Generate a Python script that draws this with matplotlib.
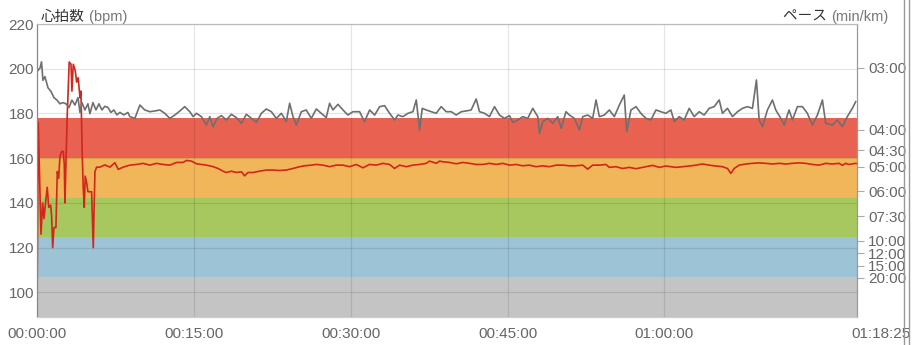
import matplotlib.pyplot as plt
from matplotlib.lines import Line2D

plt.rcParams['font.family'] = ['Liberation Sans', 'Noto Sans CJK JP', 'DejaVu Sans']

# heart rate (bpm) vs elapsed time (minutes)
hr_time = [0.00, 0.12, 0.38, 0.54, 0.67, 0.86, 0.98, 1.12, 1.31, 1.40, 1.50, 1.62, 1.81, 1.94,
           2.07, 2.20, 2.36, 2.51, 2.61, 2.67, 2.89, 3.08, 3.25, 3.34, 3.47, 3.66, 3.79, 3.94,
           4.11, 4.20, 4.33, 4.42, 4.52, 4.61, 4.75, 4.87, 5.22, 5.38, 5.54, 5.70, 6.02, 6.49,
           6.97, 7.45, 7.77, 8.24,
           8.88, 9.52, 10.15, 10.79, 11.43, 12.06, 12.70, 13.34, 13.97, 14.29, 14.77, 15.25,
           15.72, 16.20, 16.84, 17.32, 17.79, 18.11, 18.59, 19.07, 19.55, 19.86, 20.18, 20.66,
           21.30, 21.93, 22.57, 23.21, 23.84, 24.48, 25.12, 25.59, 26.23, 26.71, 27.35, 27.98,
           28.62, 29.26, 29.89, 30.53, 31.17, 31.80,
           32.45, 33.08, 33.72, 34.20, 34.67, 35.31, 35.95, 36.58, 37.22, 37.54, 38.18, 38.50,
           38.81, 39.45, 40.09, 40.72, 41.36, 42.00, 42.63, 43.27, 43.91, 44.54, 45.18, 45.82,
           46.45, 47.09, 47.73, 48.36, 49.00, 49.64, 50.27, 50.91, 51.55, 52.19, 52.66, 53.14,
           53.78, 54.41,
           54.73, 55.37, 56.00, 56.64, 57.28, 57.91, 58.55, 58.87, 59.51, 60.14, 61.10, 61.73,
           62.37, 63.01, 63.64, 64.28, 64.92, 65.55, 66.03, 66.35, 66.67, 67.15, 67.78, 68.42,
           69.06, 69.69, 70.33, 70.97, 71.60, 72.24, 72.88, 73.51, 74.15, 74.79, 75.42, 76.06,
           76.70, 77.02, 77.33, 77.65, 78.29, 78.42]
hr_bpm = [93, 176, 126, 140, 133, 142, 147, 138, 139, 134, 120, 129, 129, 154,
          151, 161, 163, 163, 157, 140, 179, 203, 202, 190, 202, 199, 194, 196,
          187, 190, 161, 147, 138, 152, 149, 145, 145, 120, 154, 156, 156, 157,
          156, 158, 155, 156,
          156.9, 157.2, 157.7, 156.9, 157.7, 157.2, 156.9, 158.1, 158.1, 159.0, 158.7, 157.5,
          157.2, 156.9, 156.2, 155.4, 154.2, 153.6, 154.2, 153.6, 153.9, 152.1, 153.6, 153.6,
          154.2, 154.7, 154.7, 154.5, 154.7, 155.4, 156.2, 156.6, 156.9, 157.2, 156.9, 156.2,
          156.9, 156.9, 156.2, 157.2, 155.7, 157.2,
          156.9, 157.7, 157.2, 155.4, 156.9, 156.2, 156.9, 157.2, 157.7, 158.7, 157.7, 158.7,
          158.4, 158.1, 157.5, 158.1, 157.7, 157.2, 157.2, 157.7, 157.2, 157.7, 156.9, 157.2,
          156.6, 156.9, 156.2, 156.6, 156.2, 156.9, 156.9, 156.6, 156.6, 156.9, 155.1, 156.9,
          156.9, 157.2,
          155.9, 156.2, 155.4, 155.9, 155.3, 155.9, 156.5, 156.8, 155.9, 156.5, 155.9, 156.2,
          156.5, 156.9, 157.4, 156.9, 156.5, 156.2, 155.4, 153.2, 155.4, 156.9, 157.4, 157.7,
          157.9, 157.7, 157.4, 157.7, 157.4, 157.7, 157.9, 157.7, 157.2, 156.9, 157.7, 157.4,
          157.7, 156.8, 157.7, 157.2, 157.7, 157.5]

# pace shown as speed (km/h) vs elapsed time (minutes)
pace_time = [0.00, 0.29, 0.43, 0.57, 0.76, 1.05, 1.34, 1.62, 1.91, 2.20, 2.48, 2.77, 3.06, 3.34,
             3.63, 3.92, 4.11, 4.30, 4.58, 4.87, 5.06, 5.35, 5.64, 5.92, 6.21, 6.49, 6.78, 7.07,
             7.35, 7.64, 7.93, 8.31, 8.69,
             8.88, 9.36, 9.84, 10.31, 10.79, 11.27, 11.75, 12.22, 12.70, 13.18, 13.66, 14.13,
             14.61, 14.93, 15.25, 15.72, 16.20, 16.52, 16.84, 17.22, 17.64, 18.11, 18.59, 19.07,
             19.55, 20.02, 20.50, 20.98, 21.46, 21.93, 22.41, 22.89, 23.37, 23.84, 24.16, 24.48,
             24.80, 25.28, 25.75, 26.23, 26.71, 27.19, 27.66, 27.98, 28.30, 28.78, 29.26, 29.73,
             30.21, 30.85, 31.32,
             31.81, 32.29, 32.77, 33.24, 33.72, 34.20, 34.52, 34.99, 35.47, 35.95, 36.27, 36.59,
             36.84, 37.22, 37.70, 38.18, 38.65, 39.13, 39.61, 40.09, 40.57, 41.04, 41.52, 42.00,
             42.32, 42.79, 43.27, 43.75, 44.23, 44.70, 45.18, 45.50, 45.98, 46.45, 46.93, 47.41,
             47.89, 48.05, 48.37, 48.84, 49.32, 49.80, 50.12, 50.59, 50.91, 51.39, 51.87, 52.19,
             52.66, 53.14, 53.46, 53.78, 54.25,
             54.73, 55.21, 55.69, 56.16, 56.39, 56.80, 57.28, 57.75, 58.23, 58.71, 59.19, 59.66,
             60.14, 60.62, 60.94, 61.42, 61.89, 62.37, 62.85, 63.33, 63.80, 64.28, 64.76, 65.24,
             65.55, 66.03, 66.51, 66.99, 67.46, 67.94, 68.42, 68.80, 69.06, 69.38, 69.85, 70.33,
             70.65, 71.13, 71.45, 71.92, 72.24, 72.72, 73.20, 73.67, 74.15, 74.63, 75.11, 75.42,
             76.06, 76.54, 77.02, 77.49, 77.97, 78.29]
speed_kmh = [19.7, 20.0, 20.5, 19.0, 19.3, 18.4, 18.1, 17.6, 17.4, 17.1, 17.2, 17.1, 16.8, 17.4,
             17.0, 17.6, 16.4, 17.2, 16.6, 17.1, 16.3, 17.2, 16.6, 17.1, 16.6, 16.9, 16.8, 16.4,
             16.6, 16.2, 16.4, 16.2, 16.4,
             16.06, 15.92, 17.00, 16.60, 16.46, 16.52, 16.60, 16.33, 15.92, 16.19, 16.52, 16.87,
             16.46, 16.06, 16.33, 16.06, 15.38, 16.06, 15.25, 15.92, 16.14, 15.79, 16.25, 15.98,
             15.52, 16.25, 15.92, 15.60, 16.33, 16.68, 16.46, 15.92, 16.33, 15.65, 17.14, 16.06,
             15.38, 16.46, 16.60, 15.92, 16.68, 16.33, 15.98, 17.14, 16.60, 17.06, 16.60, 16.19,
             16.46, 16.46, 15.65,
             16.60, 16.19, 16.87, 16.95, 16.33, 15.79, 16.19, 16.06, 16.33, 16.46, 17.41, 14.98,
             16.73, 16.60, 16.46, 16.33, 16.87, 16.46, 16.46, 16.19, 16.46, 16.52, 16.60, 17.49,
             16.46, 16.33, 16.06, 16.87, 16.19, 15.92, 16.14, 15.60, 15.79, 16.06, 15.92, 16.73,
             16.06, 14.71, 15.65, 15.92, 15.52, 16.06, 15.11, 16.46, 16.19, 15.92, 14.98, 16.06,
             16.19, 15.92, 17.41, 16.06, 16.19,
             16.60, 16.06, 17.00, 17.81, 14.85, 16.60, 16.87, 16.33, 15.92, 15.79, 16.60, 16.46,
             16.33, 16.60, 15.65, 16.06, 15.79, 16.73, 16.06, 16.46, 16.19, 16.73, 16.87, 17.41,
             16.33, 16.73, 16.06, 16.46, 16.73, 16.87, 16.73, 19.03, 15.79, 15.25, 16.60, 17.41,
             16.60, 15.92, 15.38, 16.60, 15.79, 16.87, 16.87, 16.33, 15.38, 16.19, 17.41, 15.52,
             15.38, 15.79, 15.25, 16.06, 16.73, 17.27]

max_hr = 178
zone_pcts = [0.5, 0.6, 0.7, 0.8, 0.9, 1.0]
zone_colors = ['#c4c4c4', '#9dc3d6', '#a6c85e', '#f2b65a', '#e96251']

hr_ticks = [100, 120, 140, 160, 180, 200, 220]
time_ticks = [0, 15, 30, 45, 60]
time_labels = ['00:00:00', '00:15:00', '00:30:00', '00:45:00', '01:00:00']
end_label = '01:18:25'
pace_labels = ['03:00', '04:00', '04:30', '05:00', '06:00', '07:30', '10:00', '12:00', '15:00', '20:00']

total_min = 78 + 25 / 60
pace_speeds = [60 / (int(p[:2]) + int(p[3:]) / 60) for p in pace_labels]

fig = plt.figure(figsize=(9.21, 3.45), dpi=100)
ax = fig.add_axes([37 / 921, 28 / 345, 820 / 921, 293 / 345])

# heart-rate zones
for lo, hi, c in zip(zone_pcts[:-1], zone_pcts[1:], zone_colors):
    ax.axhspan(max_hr * lo, max_hr * hi, color=c, lw=0, zorder=0)

ax.plot(hr_time, hr_bpm, color='#d0261c', lw=1.2, zorder=3)
ax.set_xlim(0, total_min)
ax.set_ylim(max_hr * 0.5, 220)
ax.set_yticks(hr_ticks)
ax.set_xticks(time_ticks, time_labels)
ax.grid(True, color='black', alpha=0.1, lw=0.9)
ax.tick_params(axis='y', length=0, pad=2, labelsize=11, labelcolor='#666')
ax.tick_params(axis='x', length=0, pad=7, labelsize=11, labelcolor='#666')
ax.annotate(end_label, xy=(total_min, max_hr * 0.5), xytext=(24, -17),
            textcoords='offset pixels', ha='center', va='center', fontsize=11, color='#666',
            annotation_clip=False)

ax2 = ax.twinx()
ax2.plot(pace_time, speed_kmh, color='#6f6f6f', lw=1.2)
ax2.set_ylim(-0.16, 23.56)
ax2.set_yticks(pace_speeds, pace_labels)
ax2.tick_params(axis='y', direction='out', length=5, width=0.8, color='#aaa',
                pad=3, labelsize=11, labelcolor='#666')

for a in (ax, ax2):
    a.spines['left'].set_color('#888')
    a.spines['right'].set_color('#999')
    a.spines['top'].set_color('#bbb')
    a.spines['bottom'].set_color('#ccc')

# axis titles
t1 = fig.text(41 / 921, 1 - 21 / 345, '心拍数', fontsize=10.5, color='#333', va='baseline')
ax.annotate(' (bpm)', xy=(1, 0), xycoords=t1, va='bottom', fontsize=10.5, color='#777')
t2 = fig.text(888 / 921, 1 - 21 / 345, '(min/km)', fontsize=10.5, color='#777',
              ha='right', va='baseline')
ax.annotate('ペース ', xy=(0, 0), xycoords=t2, ha='right', va='bottom', fontsize=10.5, color='#333')

# window edge lines at the right
for xp in (903.5, 908.5):
    fig.add_artist(Line2D([xp / 921] * 2, [0, 1], transform=fig.transFigure, color='#999', lw=1))

fig.savefig('out.png', dpi=100)
